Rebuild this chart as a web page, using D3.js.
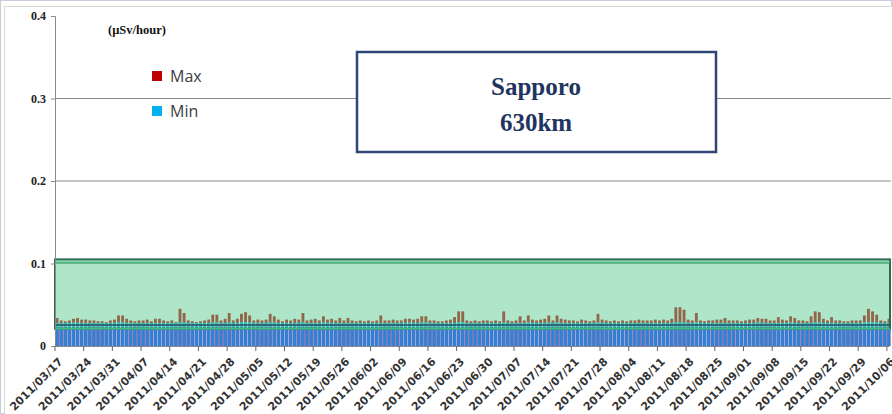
<!DOCTYPE html>
<html>
<head>
<meta charset="utf-8">
<script src="https://cdn.jsdelivr.net/npm/d3@7"></script>
<style>
body { margin: 0; background: #fff; }
svg { display: block; }
</style>
</head>
<body>
<svg id="chart" width="892" height="414"></svg>
<script>
// daily readings, 2011/03/17 .. 2011/10/06 (uSv/hour)
var startDate = "2011-03-17", endDate = "2011-10-07";

var maxValues = [
	0.034, 0.031, 0.030, 0.031, 0.033, 0.034, 0.032,
	0.032, 0.031, 0.031, 0.030, 0.030, 0.029, 0.031,
	0.032, 0.037, 0.037, 0.033, 0.031, 0.030, 0.031,
	0.031, 0.032, 0.030, 0.033, 0.033, 0.031, 0.030,
	0.031, 0.029, 0.045, 0.040, 0.031, 0.030, 0.029,
	0.030, 0.031, 0.032, 0.038, 0.038, 0.031, 0.033,
	0.040, 0.031, 0.033, 0.039, 0.041, 0.037, 0.031,
	0.032, 0.031, 0.032, 0.039, 0.036, 0.032, 0.030,
	0.032, 0.031, 0.033, 0.032, 0.040, 0.031, 0.032,
	0.033, 0.031, 0.036, 0.032, 0.033, 0.031, 0.034,
	0.031, 0.034, 0.031, 0.030, 0.031, 0.030, 0.031,
	0.030, 0.031, 0.037, 0.031, 0.031, 0.032, 0.031,
	0.031, 0.033, 0.033, 0.032, 0.033, 0.036, 0.036,
	0.031, 0.031, 0.030, 0.030, 0.031, 0.032, 0.035,
	0.042, 0.042, 0.031, 0.030, 0.031, 0.030, 0.031,
	0.031, 0.030, 0.031, 0.030, 0.042, 0.031, 0.030,
	0.031, 0.036, 0.031, 0.037, 0.032, 0.031, 0.032,
	0.033, 0.037, 0.031, 0.037, 0.033, 0.032, 0.031,
	0.031, 0.030, 0.032, 0.031, 0.030, 0.031, 0.039,
	0.032, 0.031, 0.030, 0.031, 0.030, 0.031, 0.030,
	0.031, 0.031, 0.032, 0.031, 0.031, 0.031, 0.032,
	0.031, 0.032, 0.031, 0.033, 0.047, 0.047, 0.044,
	0.032, 0.031, 0.040, 0.031, 0.030, 0.031, 0.031,
	0.032, 0.032, 0.034, 0.031, 0.031, 0.031, 0.030,
	0.031, 0.032, 0.032, 0.034, 0.033, 0.033, 0.031,
	0.031, 0.035, 0.032, 0.031, 0.036, 0.034, 0.031,
	0.031, 0.030, 0.036, 0.042, 0.041, 0.033, 0.031,
	0.035, 0.031, 0.031, 0.030, 0.030, 0.031, 0.031,
	0.031, 0.037, 0.045, 0.042, 0.038, 0.031, 0.030,
	0.033
];

var minValues = [
	0.028, 0.028, 0.028, 0.028, 0.029, 0.028, 0.028,
	0.028, 0.028, 0.028, 0.028, 0.028, 0.028, 0.028,
	0.028, 0.029, 0.029, 0.028, 0.028, 0.028, 0.028,
	0.028, 0.028, 0.028, 0.028, 0.028, 0.028, 0.028,
	0.028, 0.028, 0.029, 0.029, 0.028, 0.028, 0.028,
	0.028, 0.028, 0.028, 0.029, 0.029, 0.028, 0.028,
	0.029, 0.028, 0.028, 0.029, 0.029, 0.029, 0.028,
	0.028, 0.028, 0.028, 0.029, 0.029, 0.028, 0.028,
	0.028, 0.028, 0.028, 0.028, 0.029, 0.028, 0.028,
	0.028, 0.028, 0.029, 0.028, 0.028, 0.028, 0.028,
	0.028, 0.028, 0.028, 0.028, 0.028, 0.028, 0.028,
	0.028, 0.028, 0.028, 0.028, 0.028, 0.028, 0.028,
	0.028, 0.028, 0.029, 0.028, 0.028, 0.029, 0.029,
	0.028, 0.028, 0.028, 0.028, 0.028, 0.028, 0.028,
	0.029, 0.029, 0.028, 0.028, 0.028, 0.028, 0.028,
	0.028, 0.028, 0.028, 0.028, 0.029, 0.028, 0.028,
	0.028, 0.028, 0.028, 0.029, 0.028, 0.028, 0.028,
	0.028, 0.029, 0.028, 0.029, 0.028, 0.028, 0.028,
	0.028, 0.028, 0.028, 0.028, 0.028, 0.028, 0.029,
	0.028, 0.028, 0.028, 0.028, 0.028, 0.028, 0.028,
	0.028, 0.028, 0.028, 0.028, 0.028, 0.028, 0.028,
	0.028, 0.028, 0.028, 0.028, 0.029, 0.029, 0.029,
	0.028, 0.028, 0.029, 0.028, 0.028, 0.028, 0.028,
	0.028, 0.028, 0.028, 0.028, 0.028, 0.028, 0.028,
	0.028, 0.028, 0.028, 0.029, 0.028, 0.028, 0.028,
	0.028, 0.028, 0.028, 0.028, 0.029, 0.028, 0.028,
	0.028, 0.028, 0.028, 0.029, 0.029, 0.028, 0.028,
	0.028, 0.028, 0.028, 0.028, 0.028, 0.028, 0.028,
	0.028, 0.029, 0.029, 0.029, 0.029, 0.028, 0.028,
	0.028
];

var yTicks = [0, 0.1, 0.2, 0.3, 0.4];
var yTickLabels = ["0", "0.1", "0.2", "0.3", "0.4"];
var normalRange = [0.021, 0.105];   // shaded green band
var unitLabel = "(\u00b5Sv/hour)";
var stationName = "Sapporo", stationDist = "630km";
var legendItems = ["Max", "Min"];

function drawChart(){
	var parse = d3.timeParse("%Y-%m-%d"),
		fmt = d3.timeFormat("%Y/%m/%d");
	var days = d3.timeDay.range(parse(startDate), parse(endDate));
	var data = days.map(function(d, i){
		return {date: fmt(d), max: maxValues[i], min: minValues[i]};
	});

	var svg = d3.select("#chart"),
		mLeft = 55, mRight = 891, mTop = 16, mBottom = 346;

	// one slot per day; bar sits in the middle of its slot
	var x = d3.scaleBand()
		.domain(data.map(function(d){ return d.date; }))
		.range([mLeft, mRight])
		.paddingInner(0.3)
		.paddingOuter(0.15);
	var step = x.step();

	var y = d3.scaleLinear().domain([0, 0.4]).range([mBottom, mTop]);

	var color = d3.scaleOrdinal().domain(legendItems).range(["#c00000", "#00b0f0"]);

	// outer frame
	svg.append("rect").attr("x", 0.5).attr("y", 0.5).attr("width", 891).attr("height", 413)
		.attr("fill", "#fffffb").attr("stroke", "#c9cbe0");
	svg.append("rect").attr("x", 4.5).attr("y", 6.5).attr("width", 888).attr("height", 408)
		.attr("fill", "#fff").attr("stroke", "#d8d8d8");

	// gridlines
	svg.append("g").selectAll("line")
		.data(yTicks.filter(function(t){ return t > 0 && t < 0.4; }))
		.enter().append("line")
		.attr("x1", mLeft).attr("x2", mRight)
		.attr("y1", function(d){ return y(d); }).attr("y2", function(d){ return y(d); })
		.attr("stroke", "#8a8a8a").attr("stroke-width", 1);

	// bars: max behind, min in front
	var bars = svg.append("g");
	bars.selectAll("rect.max")
		.data(data).enter().append("rect").attr("class", "max")
		.attr("x", function(d){ return x(d.date); })
		.attr("width", x.bandwidth())
		.attr("y", function(d){ return y(d.max); })
		.attr("height", function(d){ return y(0) - y(d.max); })
		.attr("fill", color("Max"));
	bars.selectAll("rect.min")
		.data(data).enter().append("rect").attr("class", "min")
		.attr("x", function(d){ return x(d.date); })
		.attr("width", x.bandwidth())
		.attr("y", function(d){ return y(d.min); })
		.attr("height", function(d){ return y(0) - y(d.min); })
		.attr("fill", color("Min"));

	// translucent overlays
	svg.append("rect")
		.attr("x", mLeft).attr("width", mRight - mLeft - 1)
		.attr("y", y(normalRange[1])).attr("height", y(normalRange[0]) - y(normalRange[1]))
		.attr("fill", "rgb(95,205,150)").attr("fill-opacity", 0.5)
		.attr("stroke", "#2d6a4f").attr("stroke-width", 2);
	svg.append("rect")
		.attr("x", mLeft).attr("width", mRight - mLeft - 1)
		.attr("y", y(normalRange[0])).attr("height", y(0) - y(normalRange[0]))
		.attr("fill", "rgb(85,95,195)").attr("fill-opacity", 0.55);

	var bandLines = [
		{v: 0.1015, c: "#45c283", w: 1.5},
		{v: 0.0255, c: "#1d4f63", w: 1.5},
		{v: 0.021, c: "#3cc07e", w: 1.5}
	];
	svg.append("g").selectAll("line").data(bandLines).enter().append("line")
		.attr("x1", mLeft).attr("x2", mRight - 1)
		.attr("y1", function(d){ return y(d.v); }).attr("y2", function(d){ return y(d.v); })
		.attr("stroke", function(d){ return d.c; }).attr("stroke-width", function(d){ return d.w; });

	// y axis
	var yAxis = svg.append("g")
		.attr("transform", "translate(" + mLeft + ",0)")
		.call(d3.axisLeft(y).tickValues(yTicks).tickSize(4)
			.tickFormat(function(d, i){ return yTickLabels[i]; }));
	yAxis.select(".domain").attr("stroke", "#8a8a8a");
	yAxis.selectAll(".tick line").attr("stroke", "#8a8a8a");
	yAxis.selectAll("text")
		.attr("font-family", "Liberation Serif, serif").attr("font-weight", "bold")
		.attr("font-size", 12).attr("fill", "#222").attr("x", -9);

	// x axis: weekly ticks at the start of the day's slot
	var weekly = data.filter(function(d, i){ return i % 7 === 0; }).map(function(d){ return d.date; });
	var xAxis = svg.append("g")
		.attr("transform", "translate(" + (-step / 2) + "," + mBottom + ")")
		.call(d3.axisBottom(x).tickValues(weekly).tickSize(5).tickSizeOuter(0));
	xAxis.select(".domain").attr("stroke", "#8a8a8a");
	xAxis.selectAll(".tick line").attr("stroke", "#666");
	xAxis.selectAll("text")
		.attr("font-family", "DejaVu Sans, sans-serif").attr("font-weight", "bold")
		.attr("font-size", 11).attr("fill", "#333")
		.attr("text-anchor", "end").attr("dy", "0.35em")
		.attr("transform", "translate(0,8) rotate(-45)");

	// unit label
	svg.append("text").attr("x", 108).attr("y", 34)
		.attr("font-family", "Liberation Serif, serif").attr("font-weight", "bold")
		.attr("font-size", 12.5).attr("fill", "#111").text(unitLabel);

	// legend
	var legend = svg.append("g").selectAll("g").data(legendItems).enter().append("g")
		.attr("transform", function(d, i){ return "translate(152," + (71 + i * 35) + ")"; });
	legend.append("rect").attr("width", 10).attr("height", 10)
		.attr("fill", function(d){ return color(d); });
	legend.append("text").attr("x", 18).attr("y", 11)
		.attr("font-family", "Open Sans, sans-serif").attr("font-size", 16)
		.attr("fill", "#404040").text(function(d){ return d; });

	// station box
	svg.append("rect").attr("x", 357).attr("y", 52).attr("width", 359).attr("height", 100)
		.attr("fill", "#fff").attr("stroke", "#2f4778").attr("stroke-width", 2.5);
	svg.append("text").attr("x", 536).attr("y", 95).attr("text-anchor", "middle")
		.attr("font-family", "Liberation Serif, serif").attr("font-weight", "bold")
		.attr("font-size", 25).attr("fill", "#1f3560").text(stationName);
	svg.append("text").attr("x", 536).attr("y", 131).attr("text-anchor", "middle")
		.attr("font-family", "Liberation Serif, serif").attr("font-weight", "bold")
		.attr("font-size", 25).attr("fill", "#1f3560").text(stationDist);
}

drawChart();
</script>
</body>
</html>
